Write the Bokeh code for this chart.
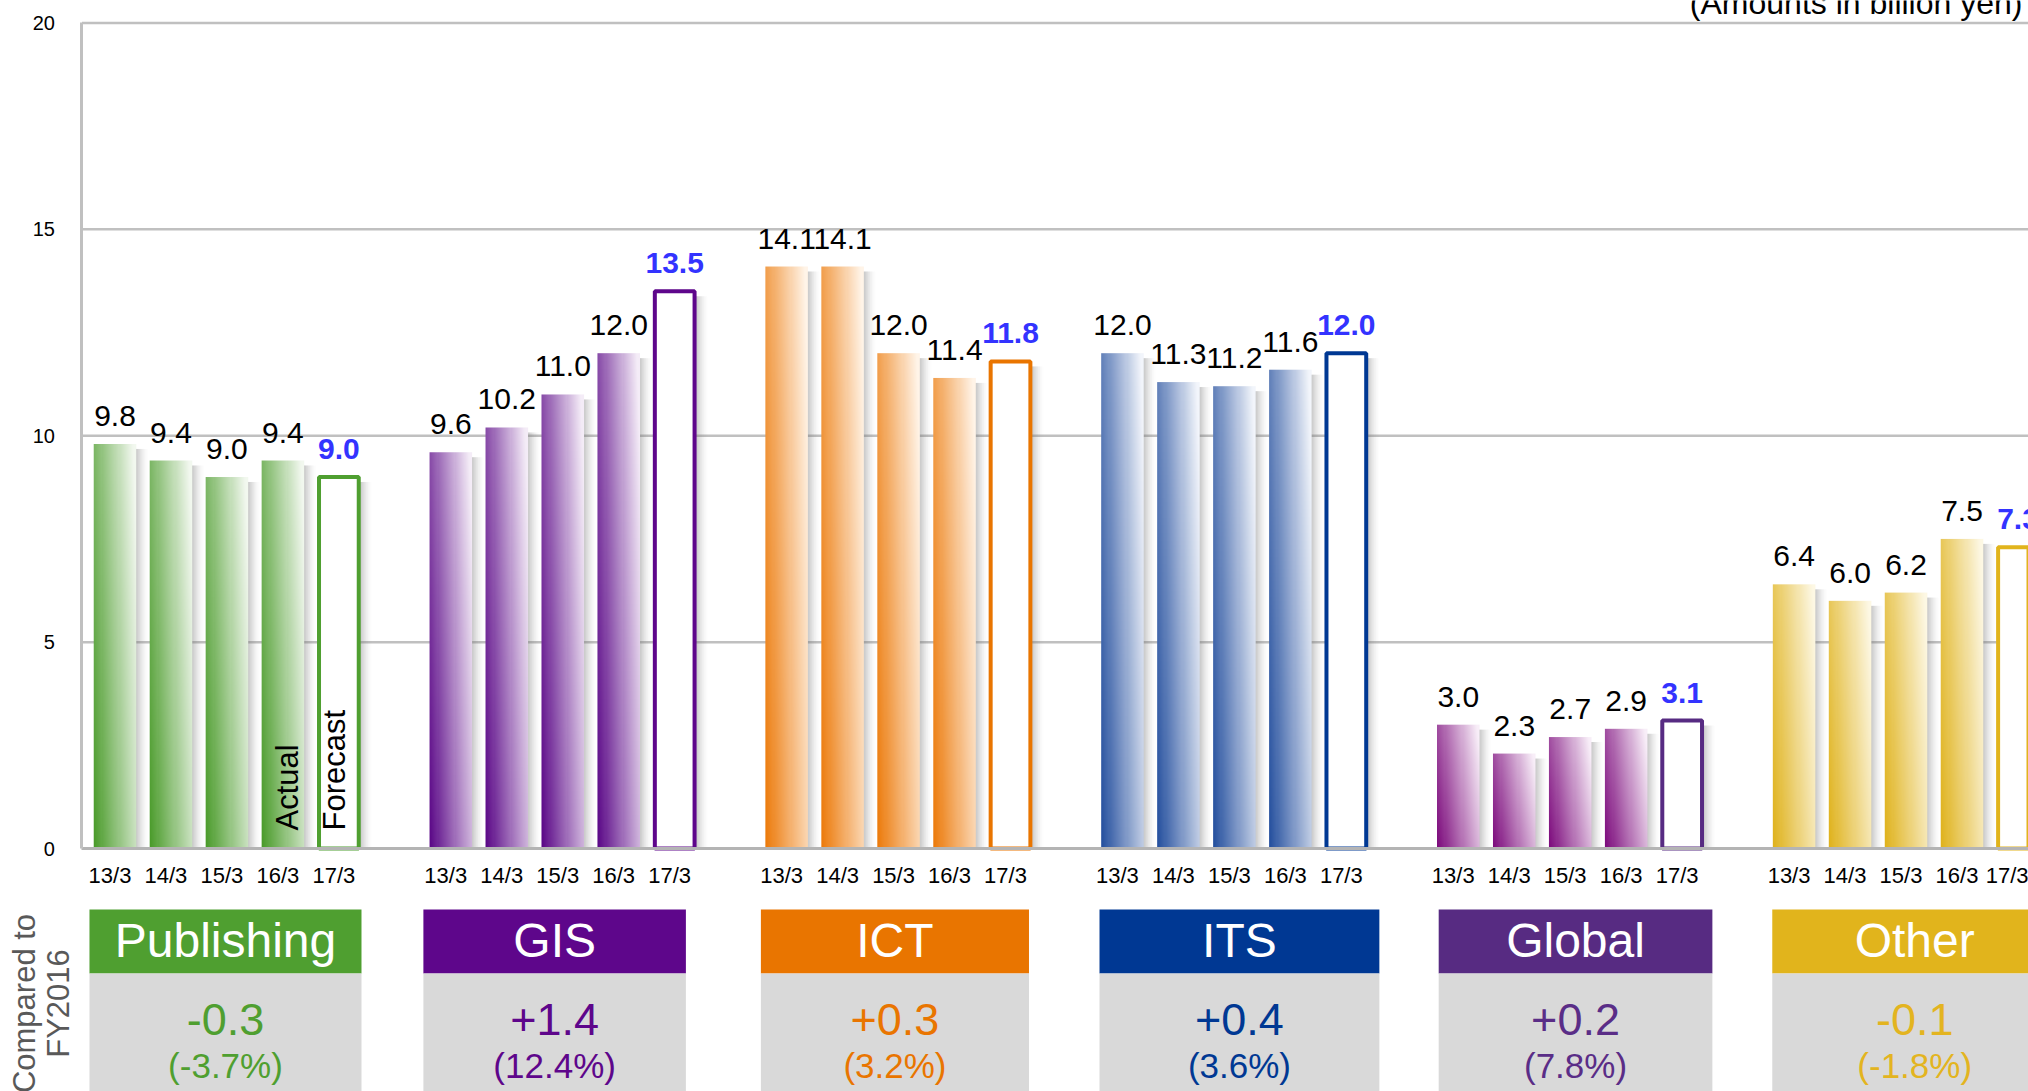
import numpy as np
from bokeh.plotting import figure
from bokeh.models import Range1d, FixedTicker
from bokeh.core.properties import value
from bokeh.embed import file_html
from bokeh.resources import INLINE

# ---------------- data ----------------
categories = ["Publishing", "GIS", "ICT", "ITS", "Global", "Other"]
periods = ["13/3", "14/3", "15/3", "16/3", "17/3"]
publishing = [9.8, 9.4, 9.0, 9.4, 9.0]
gis = [9.6, 10.2, 11.0, 12.0, 13.5]
ict = [14.1, 14.1, 12.0, 11.4, 11.8]
its = [12.0, 11.3, 11.2, 11.6, 12.0]
global_ = [3.0, 2.3, 2.7, 2.9, 3.1]
other = [6.4, 6.0, 6.2, 7.5, 7.3]
change = ["-0.3", "+1.4", "+0.3", "+0.4", "+0.2", "-0.1"]
change_pct = ["(-3.7%)", "(12.4%)", "(3.2%)", "(3.6%)", "(7.8%)", "(-1.8%)"]
y_ticks = [0, 5, 10, 15, 20]
series = [publishing, gis, ict, its, global_, other]

# ---------------- style ----------------
header_colors = ["#4f9f30", "#5e068b", "#e97500", "#003893", "#572b82", "#e1b41c"]
change_colors = ["#4f9f30", "#5e068b", "#e97500", "#003893", "#5a2d87", "#e3b420"]
grad_dark = ["#4a9b2a", "#5a0787", "#ec7a0a", "#244f9e", "#7c0a7c", "#dfb21c"]
grad_light = ["#f2f8ef", "#f4ecf7", "#fff4e8", "#f2f5fb", "#f8eef8", "#fdf8e4"]
box_left_off = [-0.456, -0.49, -0.46, -0.41, -0.35, -0.39]
box_right_off = [4.404, 4.20, 4.33, 4.59, 4.54, 4.70]

FONT = value("Liberation Sans")
GROUP_STEP = 6
BW = 0.76
TICK_SHIFT = -0.09
X_LEFT, X_RIGHT = -0.59, 34.188

def hex2rgb(h):
    h = h.lstrip("#")
    return np.array([int(h[i:i + 2], 16) for i in (0, 2, 4)], dtype=float)

def gradient(dark, light, nx=40, ny=120):
    u = np.linspace(0, 1, nx)[None, :]
    vv = np.linspace(0, 1, ny)[:, None]
    t = np.clip(0.75 * u + 0.3 * vv, 0, 1)
    d, l = hex2rgb(dark), hex2rgb(light)
    rgb = d[None, None, :] + (l - d)[None, None, :] * t[..., None]
    img = np.zeros((ny, nx), dtype=np.uint32)
    view = img.view(dtype=np.uint8).reshape((ny, nx, 4))
    view[..., :3] = np.round(rgb).astype(np.uint8)
    view[..., 3] = 255
    return img

def shadow(nx=20, ny=4):
    u = np.linspace(0, 1, nx)[None, :]
    a = (0.42 * (1 - u) ** 1.6) * np.ones((ny, 1))
    img = np.zeros((ny, nx), dtype=np.uint32)
    view = img.view(dtype=np.uint8).reshape((ny, nx, 4))
    view[..., 0] = 110
    view[..., 1] = 110
    view[..., 2] = 110
    view[..., 3] = np.round(a * 255).astype(np.uint8)
    return img

p = figure(width=2028, height=1091, output_backend="svg", toolbar_location=None, tools="",
           x_range=Range1d(-2.0457, X_RIGHT), y_range=Range1d(-5.887, 20.545),
           min_border=0, min_border_left=0, min_border_right=0,
           min_border_top=0, min_border_bottom=0)
p.outline_line_color = None
p.xgrid.visible = False
p.ygrid.visible = False
p.background_fill_color = "white"

# grid lines
p.segment(x0=[X_LEFT] * 4, x1=[X_RIGHT] * 4, y0=y_ticks[1:], y1=y_ticks[1:],
          line_color="#c0c0c0", line_width=2.5)

# bar positions
slots, vals, cat_idx, per_idx = [], [], [], []
for g, ser in enumerate(series):
    for i, v in enumerate(ser):
        slots.append(g * GROUP_STEP + i)
        vals.append(v)
        cat_idx.append(g)
        per_idx.append(i)

act = [k for k in range(len(slots)) if per_idx[k] < 4]
fc = [k for k in range(len(slots)) if per_idx[k] == 4]

# shadows
sh = shadow()
p.image_rgba(image=[sh] * len(slots), x=[slots[k] + BW / 2 - 0.02 for k in range(len(slots))],
             y=[0] * len(slots), dw=[0.24] * len(slots),
             dh=[max(vals[k] - 0.12, 0) for k in range(len(slots))])

# actual bars (gradient)
grads = [gradient(grad_dark[g], grad_light[g]) for g in range(len(categories))]
p.image_rgba(image=[grads[cat_idx[k]] for k in act],
             x=[slots[k] - BW / 2 for k in act], y=[0] * len(act),
             dw=[BW] * len(act), dh=[vals[k] for k in act])

# forecast bars
p.vbar(x=[slots[k] for k in fc], width=BW - 0.05, top=[vals[k] for k in fc], bottom=0,
       fill_color="white", line_color=[header_colors[cat_idx[k]] for k in fc], line_width=4)

# value labels
p.text(x=[slots[k] for k in act], y=[vals[k] for k in act], text=[f"{vals[k]:.1f}" for k in act],
       text_font=FONT, text_font_size="30px", text_align="center", text_baseline="middle",
       y_offset=-28, text_color="black")
p.text(x=[slots[k] for k in fc], y=[vals[k] for k in fc], text=[f"{vals[k]:.1f}" for k in fc],
       text_font=FONT, text_font_size="30px", text_font_style="bold", text_align="center",
       text_baseline="middle", y_offset=-28, text_color="#3333ff")

# Actual / Forecast rotated labels
p.text(x=[slots[3] + 0.082, slots[4] - 0.078], y=[0.436, 0.436], text=["Actual", "Forecast"],
       angle=np.pi / 2, text_font=FONT, text_font_size="31px", text_align="left",
       text_baseline="middle", text_color="black")

# category boxes
gstart = [g * GROUP_STEP for g in range(len(categories))]
bl = [gstart[g] + box_left_off[g] for g in range(len(categories))]
br = [gstart[g] + box_right_off[g] for g in range(len(categories))]
HEAD_TOP, HEAD_BOT, GRAY_BOT = -1.478, -3.0285, -6.5
p.quad(left=bl, right=br, top=[HEAD_TOP] * 6, bottom=[HEAD_BOT] * 6,
       fill_color=header_colors, line_color=None)
p.quad(left=bl, right=br, top=[HEAD_BOT] * 6, bottom=[GRAY_BOT] * 6,
       fill_color="#d9d9d9", line_color=None)
bc = [(a + b) / 2 for a, b in zip(bl, br)]
p.text(x=bc, y=[-2.229] * 6, text=categories, text_font=FONT, text_font_size="48px",
       text_align="center", text_baseline="middle", text_color="white")
p.text(x=bc, y=[-4.14] * 6, text=change, text_font=FONT, text_font_size="45px",
       text_align="center", text_baseline="middle", text_color=change_colors)
p.text(x=bc, y=[-5.259] * 6, text=change_pct, text_font=FONT, text_font_size="35px",
       text_align="center", text_baseline="middle", text_color=change_colors)

# Compared to FY2016
p.text(x=[-1.617, -1.009], y=[-3.755, -3.755], text=["Compared to", "FY2016"], angle=np.pi / 2,
       text_font=FONT, text_font_size="31px", text_align="center", text_baseline="middle",
       text_color="#595959")

# unit note
p.text(x=[34.08], y=[20.478], text=["(Amounts in billion yen)"], text_font=FONT,
       text_font_size="32px", text_align="right", text_baseline="middle", text_color="black")

# axes
ticks = [s + TICK_SHIFT for s in slots]
xa = p.xaxis[0]
xa.fixed_location = 0
xa.bounds = (X_LEFT, X_RIGHT)
xa.ticker = FixedTicker(ticks=ticks)
xa.major_label_overrides = {t: periods[per_idx[k]] for k, t in enumerate(ticks)}
xa.major_tick_line_color = None
xa.minor_tick_line_color = None
xa.major_tick_out = 0
xa.major_tick_in = 0
xa.major_label_standoff = 14
xa.axis_line_color = "#b4b4b4"
xa.axis_line_width = 3
xa.major_label_text_font = "Liberation Sans"
xa.major_label_text_font_size = "22px"
xa.major_label_text_color = "black"

ya = p.yaxis[0]
ya.fixed_location = X_LEFT
ya.bounds = (0, 20)
ya.ticker = FixedTicker(ticks=y_ticks)
ya.major_tick_line_color = None
ya.minor_tick_line_color = None
ya.major_tick_out = 0
ya.major_tick_in = 0
ya.major_label_standoff = 27
ya.axis_line_color = "#c0c0c0"
ya.axis_line_width = 3
ya.major_label_text_font = "Liberation Sans"
ya.major_label_text_font_size = "20px"
ya.major_label_text_color = "black"

open("out.html", "w").write(file_html(p, INLINE))
